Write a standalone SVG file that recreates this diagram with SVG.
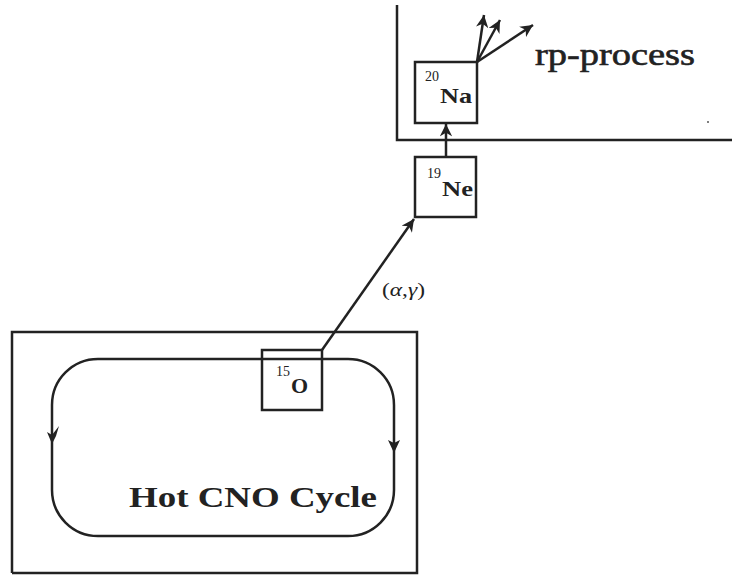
<svg xmlns="http://www.w3.org/2000/svg" width="732" height="575" viewBox="0 0 732 575">
<style>
.ln{fill:none;stroke:#222;stroke-width:2.5}
.box{fill:#fff;stroke:#222;stroke-width:2.5}
.sup{font-family:"Liberation Serif",serif;font-size:14px;fill:#222}
.nuc{font-family:"Liberation Serif",serif;font-size:22px;font-weight:bold;fill:#222}
.big{font-family:"Liberation Serif",serif;fill:#222}
</style>
<defs>
<marker id="ah" viewBox="0 0 10 10" refX="10" refY="5" markerWidth="5" markerHeight="5" orient="auto" markerUnits="strokeWidth">
<path d="M0,0 L10,5 L0,10 L3,5 z" fill="#222"/>
</marker>
</defs>
<rect width="732" height="575" fill="#fff"/>
<g id="frames">
<path class="ln" d="M397,5 V140 H732"/>
<path class="ln" d="M12,573 V332 H417 V573 H12"/>
<circle cx="708" cy="122" r="1" fill="#555"/>
</g>
<g id="cycle">
<rect class="ln" x="52" y="359" width="342" height="177" rx="46" ry="46"/>
<path d="M52,444 L47,432 L52,435 L59,426 L56,436 Z" fill="#222"/>
<path d="M394,453 L388,440 L394,443 L400,440 Z" fill="#222"/>
<text class="big" x="129" y="507" font-size="29" font-weight="bold" textLength="248" lengthAdjust="spacingAndGlyphs">Hot CNO Cycle</text>
</g>
<g id="connectors">
<line class="ln" x1="322" y1="350" x2="414" y2="219" marker-end="url(#ah)"/>
<line class="ln" x1="446" y1="157" x2="446" y2="124" marker-end="url(#ah)"/>
<line class="ln" x1="477" y1="62" x2="484" y2="15" marker-end="url(#ah)"/>
<line class="ln" x1="477" y1="62" x2="500" y2="20" marker-end="url(#ah)"/>
<line class="ln" x1="477" y1="62" x2="533" y2="25" marker-end="url(#ah)"/>
<text x="382" y="296" font-family="Liberation Serif,serif" font-size="18" fill="#222" textLength="43" lengthAdjust="spacingAndGlyphs">(<tspan font-style="italic">α</tspan>,<tspan font-style="italic">γ</tspan>)</text>
</g>
<g id="node-O15">
<rect class="box" x="262" y="350" width="60" height="60" style="fill:none"/>
<text class="sup" x="276" y="376">15</text>
<text class="nuc" x="291" y="393">O</text>
</g>
<g id="node-Ne19">
<rect class="box" x="415" y="157" width="61" height="60"/>
<text class="sup" x="427" y="178">19</text>
<text class="nuc" x="442" y="196" textLength="31" lengthAdjust="spacingAndGlyphs">Ne</text>
</g>
<g id="node-Na20">
<rect class="box" x="415" y="62" width="62" height="61"/>
<text class="sup" x="425" y="81">20</text>
<text class="nuc" x="440" y="103" textLength="32" lengthAdjust="spacingAndGlyphs">Na</text>
</g>
<g id="label-rp">
<text class="big" x="535" y="65" font-size="31" textLength="160" lengthAdjust="spacingAndGlyphs" stroke="#222" stroke-width="0.6">rp-process</text>
</g>
</svg>
